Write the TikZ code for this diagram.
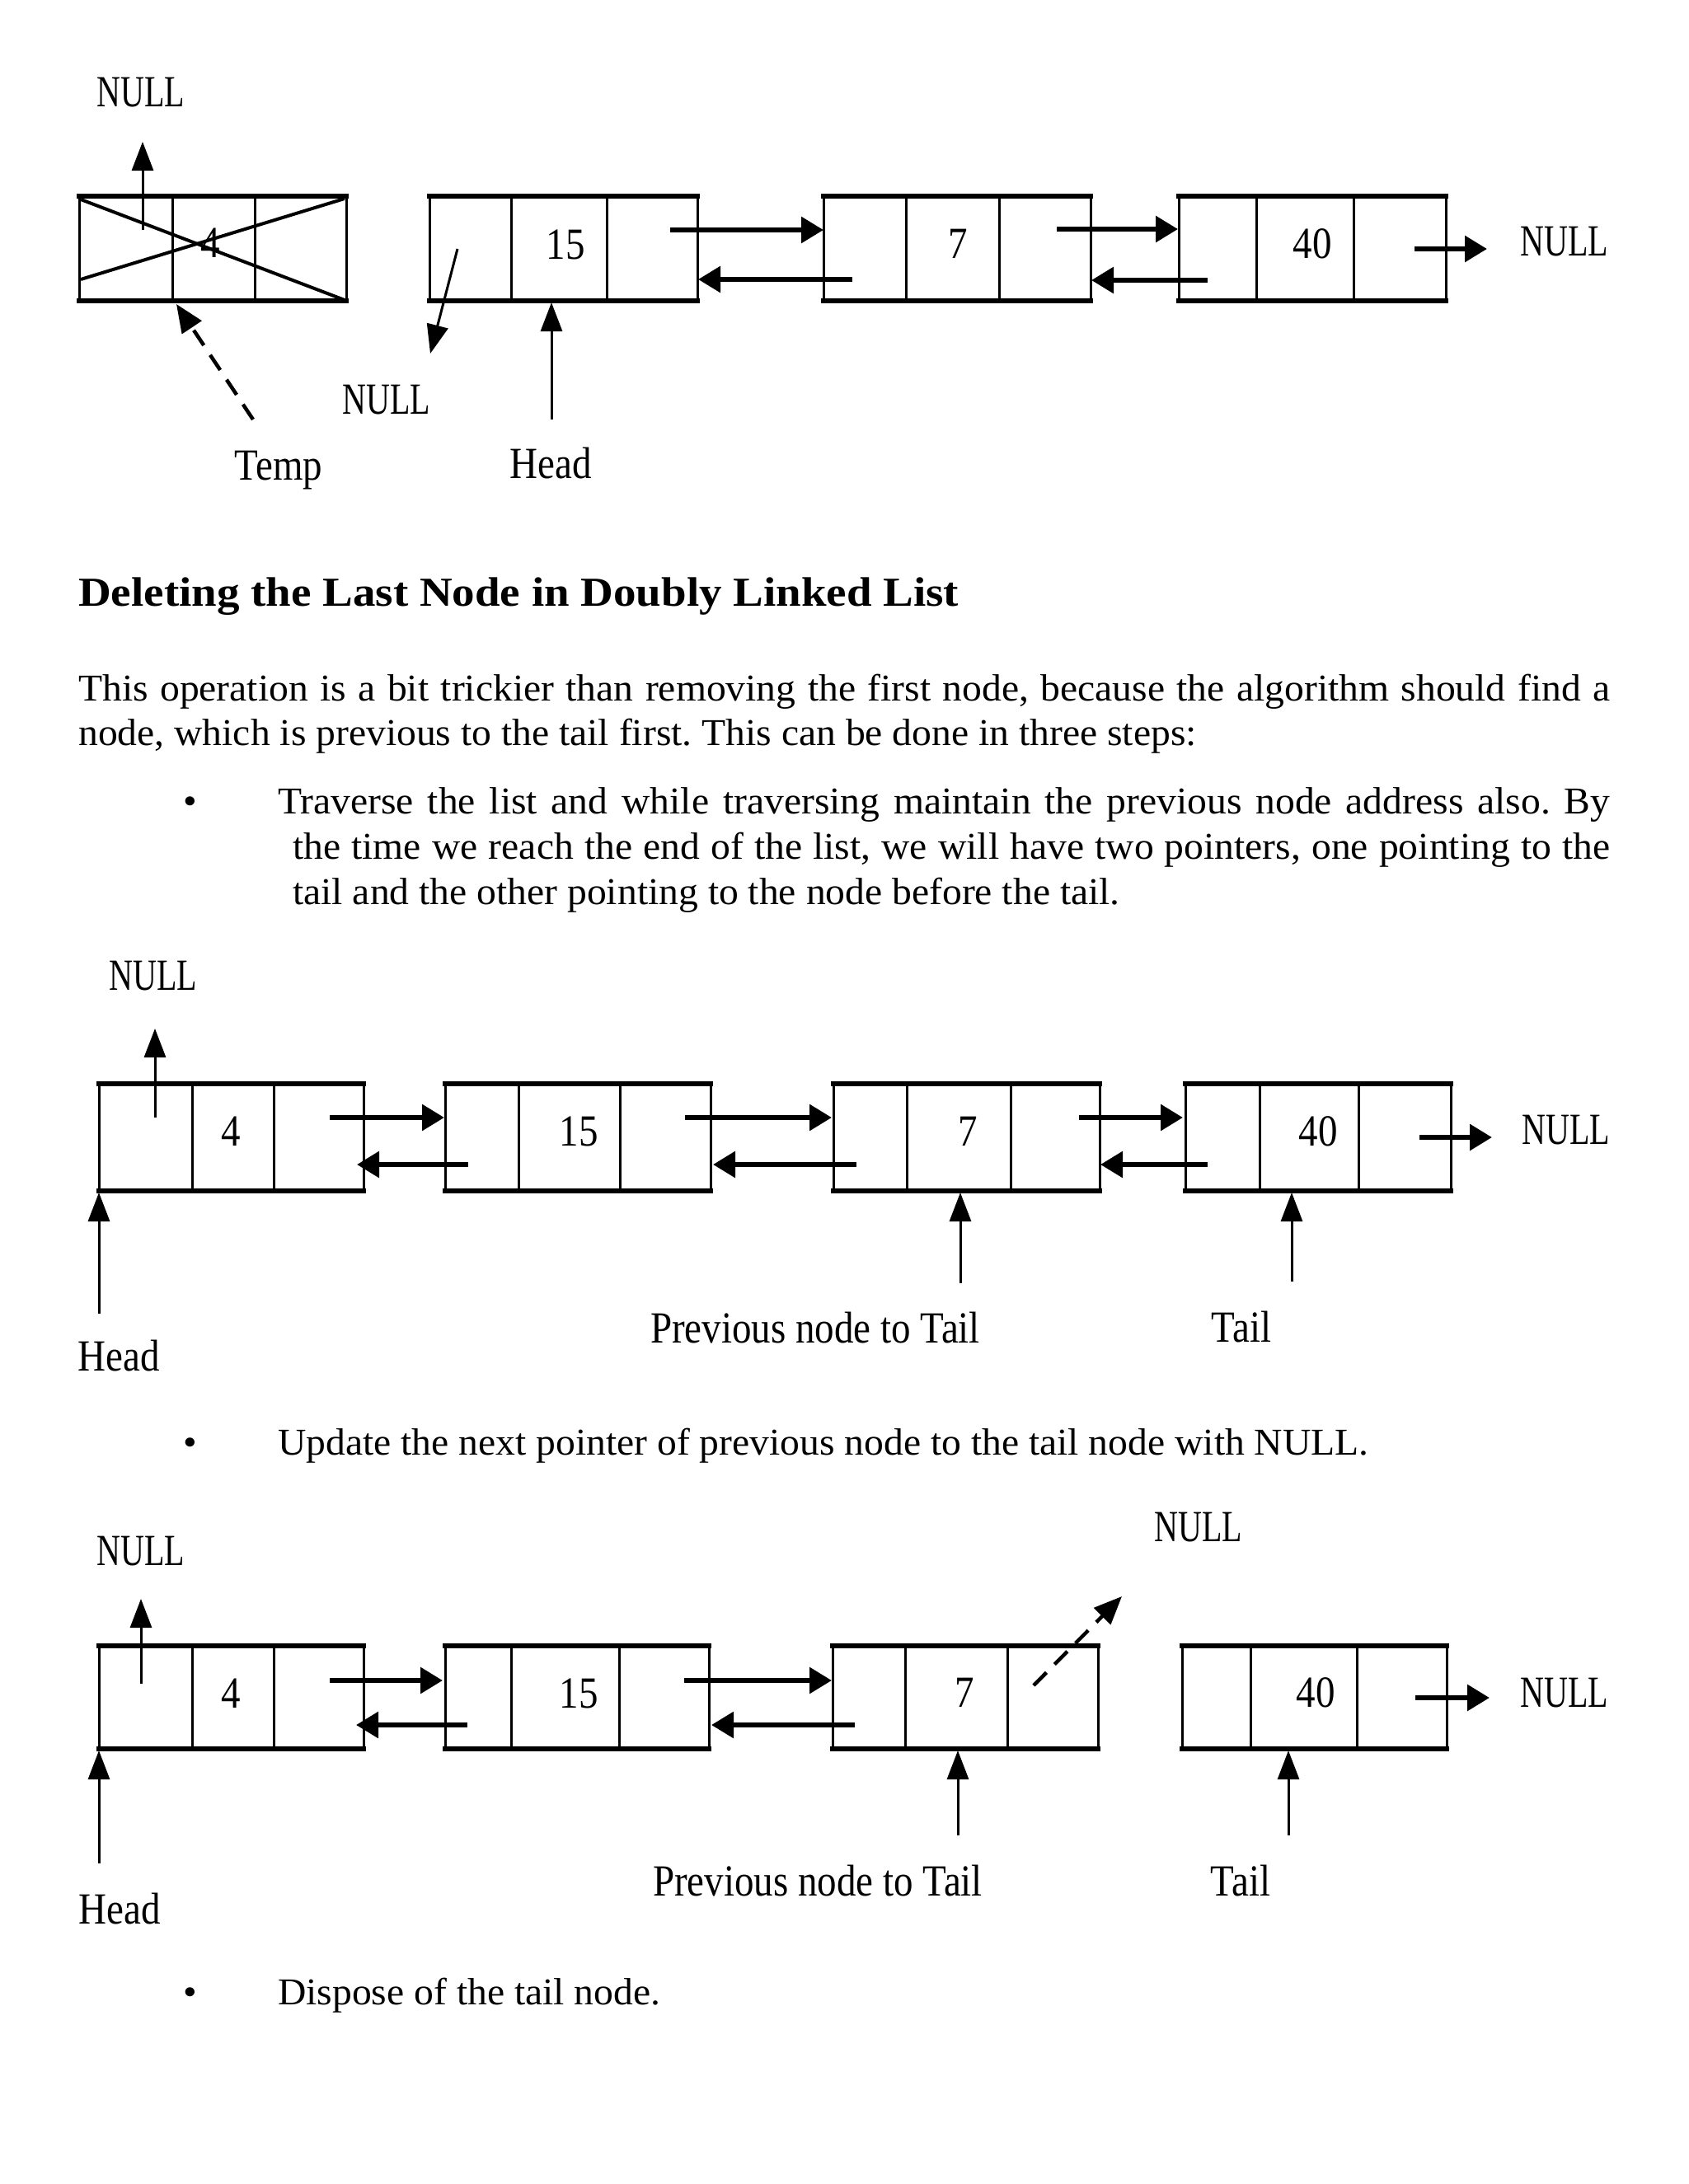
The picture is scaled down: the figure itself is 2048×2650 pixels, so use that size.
\documentclass[tikz,border=0pt]{standalone}
\usepackage{fontspec}
\setmainfont{Liberation Serif}
\newfontfamily\bodyfnt[FakeStretch=1.035]{Liberation Serif}
\newfontfamily\headfnt[FakeStretch=1.1]{Liberation Serif}
\newfontfamily\lblfnt[FakeStretch=0.87]{Liberation Serif}
\newfontfamily\nulfam[FakeStretch=0.74]{Liberation Serif}
\usetikzlibrary{arrows.meta}
\tikzset{
  cellbox/.style={inner sep=0pt, outer sep=0pt},
  hline/.style={line width=5.5pt, line cap=rect},
  vline/.style={line width=3pt},
  harr/.style={line width=6pt, -{Triangle[length=27pt,width=31pt]}},
  varr/.style={line width=3pt, -{Triangle[length=35pt,width=26pt]}},
  darr/.style={line width=4.5pt, dash pattern=on 22pt off 14pt, -{Triangle[length=34pt,width=28pt]}},
  xline/.style={line width=4pt},
  lbl/.style={font=\lblfnt\fontsize{54}{60}\selectfont, inner sep=0pt, anchor=base},
  nul/.style={font=\nulfam\fontsize{54}{60}\selectfont, inner sep=0pt, anchor=base},
  body/.style={font=\bodyfnt\frenchspacing\fontsize{46}{55}\selectfont, inner sep=0pt, anchor=base west},
  bullet/.style={font=\bodyfnt\fontsize{46}{55}\selectfont, inner sep=0pt, anchor=base},
  heading/.style={font=\headfnt\bfseries\fontsize{50}{60}\selectfont, inner sep=0pt, anchor=base west}
}
% name, xl, d1, d2, xr, ytop, ybottom
\newcommand\dllnode[7]{%
  \node[cellbox, minimum width={(#5-#2)*1pt}, minimum height={(#7-#6)*1pt}, anchor=north west] (#1) at (#2,#6) {};
  \draw[vline] (#2,#6) -- (#2,#7) (#3,#6) -- (#3,#7) (#4,#6) -- (#4,#7) (#5,#6) -- (#5,#7);
  \draw[hline] (#2,#6) -- (#5,#6) (#2,#7) -- (#5,#7);
}
\begin{document}
\begin{tikzpicture}[x=1pt,y=-1pt]
\fill[white] (0,0) rectangle (2048,2650);
\useasboundingbox (0,0) rectangle (2048,2650);

% ---------------- Diagram 1 ----------------
\dllnode{p0}{96}{209}{309}{420}{238}{365}
\dllnode{p1}{521}{620}{736}{846}{238}{365}
\dllnode{p2}{999}{1099}{1212}{1323}{238}{365}
\dllnode{p3}{1430}{1524}{1642}{1754}{238}{365}
\draw[xline] (98,242) -- (418,364);
\draw[xline] (98,339) -- (418,241);
\node[lbl] (p0v) at (255,312) {4};
\node[lbl] (p1v) at (686,314) {15};
\node[lbl] (p2v) at (1162,313) {7};
\node[lbl] (p3v) at (1592,313) {40};
\draw[varr] (173,279) -- (173,172);
\node[nul] (pnullA) at (171,129) {NULL};
\draw[varr] (555,302) -- (522,429);
\node[nul] (pnullB) at (469,502) {NULL};
\draw[darr] (307,509) -- (214,369);
\node[lbl] (ptemp) at (338,582) {Temp};
\draw[varr] (669,509) -- (669,367);
\node[lbl] (phead) at (668,580) {Head};
\draw[harr] (813,279) -- (999,279);
\draw[harr] (1034,339) -- (847,339);
\draw[harr] (1282,278) -- (1429,278);
\draw[harr] (1465,340) -- (1324,340);
\draw[harr] (1716,302) -- (1804,302);
\node[nul] (pnullC) at (1898,310) {NULL};

% ---------------- Text ----------------
\node[heading] (title) at (95,735) {Deleting the Last Node in Doubly Linked List};
\node[body] (par1) at (95,850) {\makebox[1858pt][s]{This operation is a bit trickier than removing the first node, because the algorithm should find a}};
\node[body] (par2) at (95,904) {node, which is previous to the tail first. This can be done in three steps:};
\node[bullet] (b1) at (231,987) {•};
\node[body] (b1l1) at (337,987) {\makebox[1616pt][s]{Traverse the list and while traversing maintain the previous node address also. By}};
\node[body] (b1l2) at (355,1042) {\makebox[1598pt][s]{the time we reach the end of the list, we will have two pointers, one pointing to the}};
\node[body] (b1l3) at (355,1097) {tail and the other pointing to the node before the tail.};

% ---------------- Diagram 2 ----------------
\dllnode{a0}{120}{233}{332}{441}{1315}{1445}
\dllnode{a1}{540}{629}{752}{862}{1315}{1445}
\dllnode{a2}{1011}{1100}{1226}{1334}{1315}{1445}
\dllnode{a3}{1438}{1528}{1648}{1760}{1315}{1445}
\node[lbl] (a0v) at (280,1390) {4};
\node[lbl] (a1v) at (702,1390) {15};
\node[lbl] (a2v) at (1174,1390) {7};
\node[lbl] (a3v) at (1599,1390) {40};
\draw[varr] (188,1356) -- (188,1248);
\node[nul] (anullA) at (186,1201) {NULL};
\draw[varr] (120,1594) -- (120,1447);
\node[lbl] (ahead) at (144,1663) {Head};
\draw[harr] (400,1356) -- (539,1356);
\draw[harr] (568,1413) -- (433,1413);
\draw[harr] (831,1356) -- (1009,1356);
\draw[harr] (1039,1413) -- (865,1413);
\draw[harr] (1309,1356) -- (1435,1356);
\draw[harr] (1465,1413) -- (1335,1413);
\draw[harr] (1722,1380) -- (1810,1380);
\node[nul] (anullB) at (1900,1388) {NULL};
\draw[varr] (1165,1557) -- (1165,1447);
\draw[varr] (1567,1555) -- (1567,1447);
\node[lbl] (aprev) at (989,1629) {Previous node to Tail};
\node[lbl] (atail) at (1506,1628) {Tail};

\node[bullet] (b2) at (231,1765) {•};
\node[body] (b2l1) at (337,1765) {Update the next pointer of previous node to the tail node with NULL.};

% ---------------- Diagram 3 ----------------
\dllnode{c0}{120}{233}{332}{441}{1997}{2122}
\dllnode{c1}{540}{620}{751}{860}{1997}{2122}
\dllnode{c2}{1010}{1098}{1222}{1332}{1997}{2122}
\dllnode{c3}{1434}{1517}{1646}{1755}{1997}{2122}
\node[lbl] (c0v) at (280,2072) {4};
\node[lbl] (c1v) at (702,2072) {15};
\node[lbl] (c2v) at (1170,2071) {7};
\node[lbl] (c3v) at (1596,2071) {40};
\draw[varr] (171,2043) -- (171,1940);
\node[nul] (cnullA) at (171,1899) {NULL};
\draw[varr] (120,2261) -- (120,2124);
\node[lbl] (chead) at (145,2334) {Head};
\draw[harr] (400,2039) -- (537,2039);
\draw[harr] (567,2093) -- (432,2093);
\draw[harr] (830,2039) -- (1009,2039);
\draw[harr] (1037,2093) -- (863,2093);
\draw[darr] (1254,2045) -- (1361,1937);
\node[nul] (cnullB) at (1454,1870) {NULL};
\draw[harr] (1717,2060) -- (1807,2060);
\node[nul] (cnullC) at (1898,2071) {NULL};
\draw[varr] (1162,2227) -- (1162,2124);
\draw[varr] (1563,2227) -- (1563,2124);
\node[lbl] (cprev) at (992,2300) {Previous node to Tail};
\node[lbl] (ctail) at (1505,2300) {Tail};

\node[bullet] (b3) at (231,2432) {•};
\node[body] (b3l1) at (337,2432) {Dispose of the tail node.};
\end{tikzpicture}
\end{document}
